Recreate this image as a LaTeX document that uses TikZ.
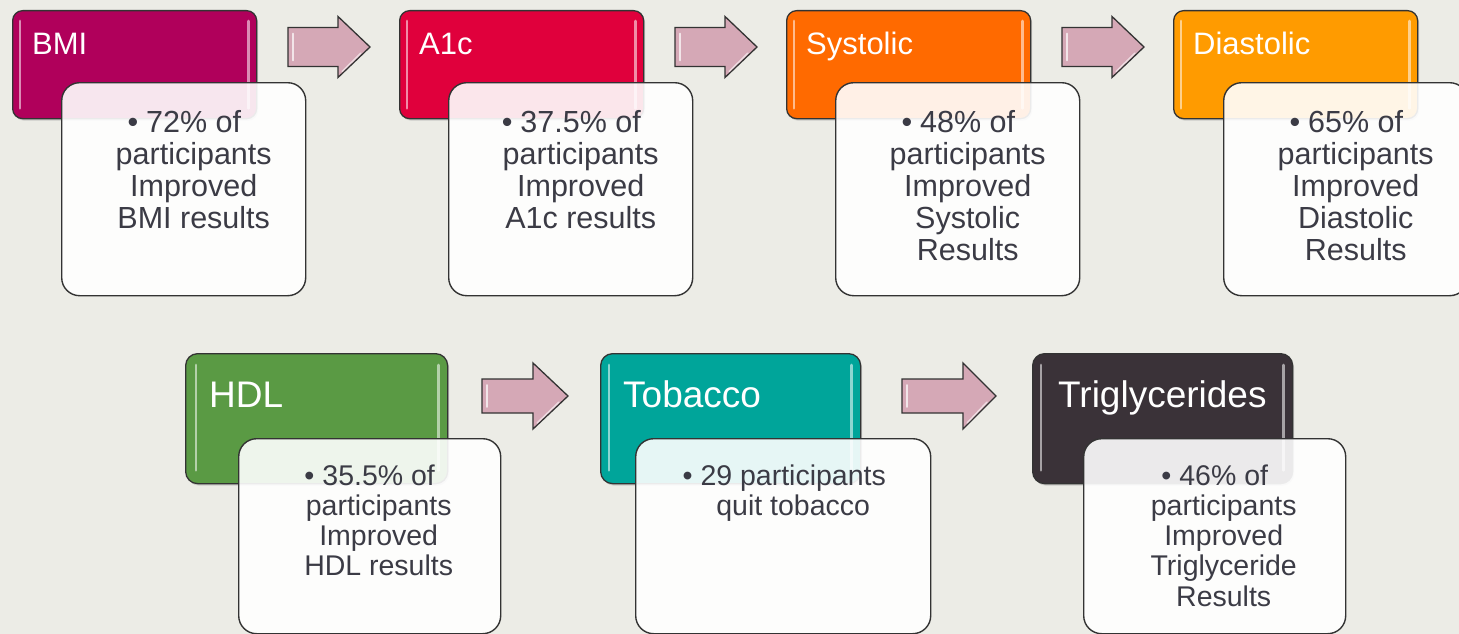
\documentclass[tikz,border=0pt]{standalone}
\usepackage{fontspec}
\setmainfont{Liberation Sans}
\usetikzlibrary{shadows}

\definecolor{bg}{HTML}{ECECE6}
\definecolor{cBMI}{HTML}{B0005B}
\definecolor{cAic}{HTML}{E0003C}
\definecolor{cSys}{HTML}{FF6A00}
\definecolor{cDia}{HTML}{FF9B00}
\definecolor{cHDL}{HTML}{5A9A44}
\definecolor{cTob}{HTML}{00A59A}
\definecolor{cTri}{HTML}{3A3238}
\definecolor{arrowfill}{HTML}{D5A8B6}
\definecolor{bodytext}{HTML}{3B3B45}
\definecolor{edge}{HTML}{333333}

% bullet that hangs to the left of a centred first line
\newcommand\hangbullet{\leavevmode\llap{\textbullet\kern8pt}}
% centred lines whose baseline is that of the first line
\newcommand\infolines[1]{\parbox[t]{280pt}{\centering #1}}

\tikzset{
  hdrbase/.style={draw=edge, line width=1.3pt, anchor=north west, inner sep=0pt,
    drop shadow={shadow xshift=1.5pt, shadow yshift=-2pt, opacity=0.3}},
  hdrA/.style={hdrbase, rounded corners=10pt, minimum width=244pt, minimum height=108pt},
  hdrB/.style={hdrbase, rounded corners=12pt, minimum width=262pt, minimum height=130pt},
  detailbase/.style={draw=edge, line width=1.4pt, fill=white, fill opacity=0.9,
    anchor=north west, inner sep=0pt, rounded corners=18pt},
  detailA/.style={detailbase, minimum width=244pt, minimum height=213pt},
  detailB/.style={detailbase, minimum width=262pt, minimum height=195pt},
  titleA/.style={text=white, inner sep=0pt, anchor=base west, font=\fontsize{31}{36}\selectfont},
  titleB/.style={text=white, inner sep=0pt, anchor=base west, font=\fontsize{37}{42}\selectfont},
  infoA/.style={text=bodytext, inner sep=0pt, anchor=base, font=\fontsize{30.5}{32.2}\selectfont},
  infoB/.style={text=bodytext, inner sep=0pt, anchor=base, font=\fontsize{28.5}{30.3}\selectfont},
  gloss/.style={white, opacity=0.55, line width=2.8pt, line cap=round},
  arrowshape/.style={draw=edge, line width=1.3pt, fill=arrowfill, line join=miter},
  pics/blockarrow/.style n args={4}{code={
    % #1 length, #2 head length, #3 half head width, #4 half body width
    \draw[arrowshape] (0,-#4) -- (#1-#2,-#4) -- (#1-#2,-#3) -- (#1,0)
      -- (#1-#2,#3) -- (#1-#2,#4) -- (0,#4) -- cycle;
    \draw[white, opacity=0.7, line width=1.6pt, line cap=round] (5,-#4+6) -- (5,#4-6);
    \draw[white, opacity=0.6, line width=1.4pt, line cap=round] (#1-9,6) -- (#1-#2+4,#3-6);
  }},
}

\begin{document}
\begin{tikzpicture}[x=1pt, y=-1pt]
\useasboundingbox (0,0) rectangle (1459,634);
\clip (0,0) rectangle (1459,634);
\fill[bg] (0,0) rectangle (1459,634);

% ---------- upper row ----------
% BMI
\node[hdrA, fill=cBMI] (bmi) at (12,10) {};
\draw[gloss] ([shift={(8pt,-11pt)}]bmi.north west) -- ([shift={(8pt,11pt)}]bmi.south west);
\draw[gloss] ([shift={(-9pt,-11pt)}]bmi.north east) -- ([shift={(-9pt,11pt)}]bmi.south east);
\node[titleA] (bmi-t) at ([shift={(20pt,-45pt)}]bmi.north west) {BMI};
\node[detailA] (bmi-d) at (61,82) {};
\node[infoA] (bmi-dt) at ([shift={(10pt,-50pt)}]bmi-d.north)
  {\infolines{\hangbullet 72\% of\\participants\\Improved\\BMI results}};

\pic at (288,47) {blockarrow={82}{32}{30.5}{19.5}};

% A1c
\node[hdrA, fill=cAic] (aic) at (399,10) {};
\draw[gloss] ([shift={(8pt,-11pt)}]aic.north west) -- ([shift={(8pt,11pt)}]aic.south west);
\draw[gloss] ([shift={(-9pt,-11pt)}]aic.north east) -- ([shift={(-9pt,11pt)}]aic.south east);
\node[titleA] (aic-t) at ([shift={(20pt,-45pt)}]aic.north west) {A1c};
\node[detailA] (aic-d) at (448,82) {};
\node[infoA] (aic-dt) at ([shift={(10pt,-50pt)}]aic-d.north)
  {\infolines{\hangbullet 37.5\% of\\participants\\Improved\\A1c results}};

\pic at (675,47) {blockarrow={82}{32}{30.5}{19.5}};

% Systolic
\node[hdrA, fill=cSys] (sys) at (786,10) {};
\draw[gloss] ([shift={(8pt,-11pt)}]sys.north west) -- ([shift={(8pt,11pt)}]sys.south west);
\draw[gloss] ([shift={(-9pt,-11pt)}]sys.north east) -- ([shift={(-9pt,11pt)}]sys.south east);
\node[titleA] (sys-t) at ([shift={(20pt,-45pt)}]sys.north west) {Systolic};
\node[detailA] (sys-d) at (835,82) {};
\node[infoA] (sys-dt) at ([shift={(10pt,-50pt)}]sys-d.north)
  {\infolines{\hangbullet 48\% of\\participants\\Improved\\Systolic\\Results}};

\pic at (1062,47) {blockarrow={82}{32}{30.5}{19.5}};

% Diastolic
\node[hdrA, fill=cDia] (dia) at (1173,10) {};
\draw[gloss] ([shift={(8pt,-11pt)}]dia.north west) -- ([shift={(8pt,11pt)}]dia.south west);
\draw[gloss] ([shift={(-9pt,-11pt)}]dia.north east) -- ([shift={(-9pt,11pt)}]dia.south east);
\node[titleA] (dia-t) at ([shift={(20pt,-45pt)}]dia.north west) {Diastolic};
\node[detailA] (dia-d) at (1223,82) {};
\node[infoA] (dia-dt) at ([shift={(10pt,-50pt)}]dia-d.north)
  {\infolines{\hangbullet 65\% of\\participants\\Improved\\Diastolic\\Results}};

% ---------- lower row ----------
% HDL
\node[hdrB, fill=cHDL] (hdl) at (185,353) {};
\draw[gloss] ([shift={(11pt,-12pt)}]hdl.north west) -- ([shift={(11pt,14pt)}]hdl.south west);
\draw[gloss] ([shift={(-10pt,-12pt)}]hdl.north east) -- ([shift={(-10pt,14pt)}]hdl.south east);
\node[titleB] (hdl-t) at ([shift={(24pt,-54pt)}]hdl.north west) {HDL};
\node[detailB] (hdl-d) at (238,438) {};
\node[infoB] (hdl-dt) at ([shift={(9pt,-47pt)}]hdl-d.north)
  {\infolines{\hangbullet 35.5\% of\\participants\\Improved\\HDL results}};

\pic at (482,396) {blockarrow={86}{35}{33}{17}};

% Tobacco
\node[hdrB, fill=cTob, minimum width=260pt] (tob) at (600,353) {};
\draw[gloss] ([shift={(9pt,-12pt)}]tob.north west) -- ([shift={(9pt,14pt)}]tob.south west);
\draw[gloss] ([shift={(-10pt,-12pt)}]tob.north east) -- ([shift={(-10pt,14pt)}]tob.south east);
\node[titleB] (tob-t) at ([shift={(23pt,-54pt)}]tob.north west) {Tobacco};
\node[detailB, minimum width=295pt] (tob-d) at (635,438) {};
\node[infoB] (tob-dt) at ([shift={(10pt,-47pt)}]tob-d.north)
  {\infolines{\hangbullet 29 participants\\quit tobacco}};

\pic at (902,396) {blockarrow={94}{33}{33}{17}};

% Triglycerides
\node[hdrB, fill=cTri, minimum width=260pt] (tri) at (1032,353) {};
\draw[gloss] ([shift={(9pt,-12pt)}]tri.north west) -- ([shift={(9pt,14pt)}]tri.south west);
\draw[gloss] ([shift={(-10pt,-12pt)}]tri.north east) -- ([shift={(-10pt,14pt)}]tri.south east);
\node[titleB] (tri-t) at ([shift={(26pt,-54pt)}]tri.north west) {Triglycerides};
\node[detailB] (tri-d) at (1083,438) {};
\node[infoB] (tri-dt) at ([shift={(9pt,-47pt)}]tri-d.north)
  {\infolines{\hangbullet 46\% of\\participants\\Improved\\Triglyceride\\Results}};
\end{tikzpicture}
\end{document}
